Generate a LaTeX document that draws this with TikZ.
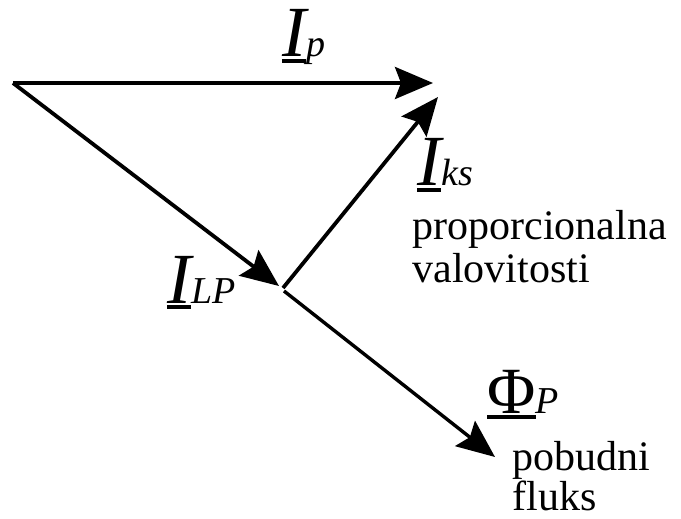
\documentclass[tikz,border=0pt]{standalone}
\usepackage{fontspec}
\setmainfont{Liberation Serif}
\usetikzlibrary{arrows.meta}

% underlined symbol with a heavy bar
\newcommand{\ulbar}[1]{\setbox0\hbox{#1}\rlap{\rule[-2.8pt]{\wd0}{1.7pt}}\box0}
\newcommand{\vsym}[1]{{\fontsize{36}{36}\selectfont\itshape #1}}
\newcommand{\vsub}[1]{{\fontsize{19}{19}\selectfont\itshape #1}}

\begin{document}
\begin{tikzpicture}[x=0.5pt,y=-0.5pt,
  vec/.style={line width=1.9pt,-{Stealth[length=19pt,width=16pt,inset=3pt]}},
  lbl/.style={inner sep=0pt,anchor=base west},
  txt/.style={inner sep=0pt,anchor=base west,align=left,font=\fontsize{21}{21.5}\selectfont}]
  \useasboundingbox (0,0) rectangle (681,519);
  \coordinate (O) at (13,83);
  \coordinate (Ip) at (433,83);
  \coordinate (Ilp) at (279,286);
  \coordinate (ks0) at (283,288);
  \coordinate (Iks) at (438,97);
  \coordinate (fi0) at (284,291);
  \coordinate (Fi) at (495,457);
  \draw[vec] (O) -- (Ip);
  \draw[vec] (O) -- (Ilp);
  \draw[vec] (ks0) -- (Iks);
  \draw[vec,line width=1.7pt] (fi0) -- (Fi);
  \node[lbl] (lIp) at (282,57) {\ulbar{\vsym{I}}\vsub{p}};
  \node[lbl] (lIks) at (417,186) {\ulbar{\vsym{I}}\vsub{ks}};
  \node[lbl] (lIlp) at (167,303) {\ulbar{\vsym{I}}\vsub{LP}};
  \node[lbl] (lFi) at (487,413) {\ulbar{{\fontsize{33}{33}\selectfont Φ}}\vsub{P}};
  % base anchor sits on the last line
  \node[txt] (tks) at (412,283) {proporcionalna\\valovitosti};
  \node[txt,font=\fontsize{21}{20}\selectfont] (tfi) at (512,510) {pobudni\\fluks};
\end{tikzpicture}
\end{document}
